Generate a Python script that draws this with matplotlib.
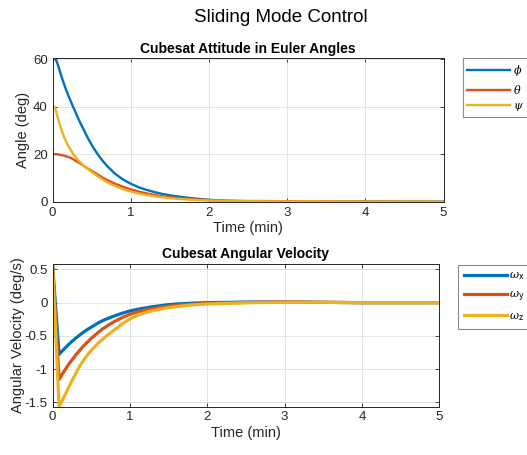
import matplotlib
matplotlib.use("Agg")
import matplotlib.pyplot as plt

plt.rcParams['font.family'] = ['Liberation Sans', 'DejaVu Sans']
plt.rcParams['mathtext.fontset'] = 'dejavuserif'

# Euler angle history (deg) vs time (min)
t_att = [0, 0.02, 0.04, 0.06, 0.08, 0.1, 0.125, 0.15, 0.175, 0.2, 0.25, 0.3,
         0.35, 0.4, 0.45, 0.5, 0.55, 0.6, 0.65, 0.7, 0.8, 0.9, 1.0, 1.1, 1.2,
         1.3, 1.4, 1.5, 1.6, 1.8, 2.0, 2.2, 2.5, 2.8, 3.0, 3.3, 3.6, 4.0, 4.5,
         5.0]
phi = [60.0, 60.5, 60.0, 58.6, 56.6, 54.4, 51.8, 49.4, 47.1, 45.0, 41.1, 37.3,
       33.6, 30.3, 27.0, 24.0, 21.4, 19.0, 16.9, 15.0, 11.8, 9.4, 7.6, 6.1,
       5.0, 4.1, 3.3, 2.7, 2.2, 1.4, 0.8, 0.4, 0.0, -0.2, -0.25, -0.2, -0.1,
       0.0, 0.0, 0.0]
theta = [20.0, 20.05, 20.05, 20.0, 19.9, 19.8, 19.6, 19.4, 19.15, 18.9, 18.2,
         17.2, 16.2, 15.1, 14.0, 13.0, 12.0, 11.0, 10.0, 9.1, 7.6, 6.3, 5.2,
         4.3, 3.5, 2.9, 2.3, 1.9, 1.5, 1.0, 0.65, 0.45, 0.3, 0.25, 0.2, 0.15,
         0.1, 0.05, 0.0, 0.0]
psi = [39.8, 40.3, 38.8, 36.4, 34.0, 31.8, 29.3, 27.2, 25.3, 23.6, 20.9, 18.6,
       16.8, 15.2, 13.8, 12.6, 11.4, 10.2, 9.2, 8.2, 6.6, 5.3, 4.3, 3.5, 2.8,
       2.3, 1.9, 1.5, 1.2, 0.8, 0.5, 0.35, 0.2, 0.15, 0.1, 0.1, 0.05, 0.0,
       0.0, 0.0]

# Body angular rates (deg/s) vs time (min)
t_rate = [0, 0.085, 0.1, 0.125, 0.15, 0.175, 0.2, 0.25, 0.3, 0.35, 0.4, 0.45,
          0.5, 0.55, 0.6, 0.65, 0.7, 0.8, 0.9, 1.0, 1.1, 1.2, 1.3, 1.4, 1.5,
          1.6, 1.8, 2.0, 2.3, 2.6, 3.0, 3.5, 4.0, 5.0]
wx = [0.58, -0.78, -0.76, -0.73, -0.70, -0.67, -0.64, -0.585, -0.535, -0.49,
      -0.445, -0.405, -0.37, -0.335, -0.30, -0.27, -0.245, -0.20, -0.16,
      -0.125, -0.10, -0.08, -0.06, -0.045, -0.03, -0.02, -0.008, 0.0, 0.005,
      0.01, 0.01, 0.005, 0.0, 0.0]
wy = [0.58, -1.16, -1.13, -1.08, -1.035, -0.99, -0.945, -0.865, -0.79, -0.72,
      -0.655, -0.595, -0.54, -0.49, -0.44, -0.395, -0.355, -0.285, -0.225,
      -0.175, -0.14, -0.11, -0.09, -0.07, -0.055, -0.04, -0.025, -0.01, 0.0,
      0.005, 0.01, 0.005, 0.0, 0.0]
wz = [0.59, -1.565, -1.53, -1.48, -1.42, -1.36, -1.30, -1.18, -1.07, -0.96,
      -0.87, -0.79, -0.72, -0.66, -0.60, -0.55, -0.50, -0.41, -0.32, -0.245,
      -0.19, -0.15, -0.12, -0.095, -0.075, -0.06, -0.035, -0.02, -0.01, 0.0,
      0.005, 0.005, 0.0, 0.0]

att_labels = [r'$\phi$', r'$\theta$', r'$\psi$']
rate_labels = [r'$\omega_\mathsf{x}$', r'$\omega_\mathsf{y}$', r'$\omega_\mathsf{z}$']
xticks = [0, 1, 2, 3, 4, 5]

colors = ['#0072BD', '#D95319', '#EDB120']
dark = '#262626'

W, H = 527, 455
fig = plt.figure(figsize=(W / 100, H / 100), dpi=100)

def fx(px):
    return px / W

def fy(py):
    return 1 - py / H

ax1 = fig.add_axes([fx(52.5), fy(201.7), fx(443.5 - 52.5), (201.7 - 58.3) / H])
ax2 = fig.add_axes([fx(52.5), fy(406.5), fx(439.3 - 52.5), (406.5 - 263.5) / H])

for y, c, lab in zip([phi, theta, psi], colors, att_labels):
    ax1.plot(t_att, y, color=c, lw=1.7, label=lab)
for y, c, lab in zip([wx, wy, wz], colors, rate_labels):
    ax2.plot(t_rate, y, color=c, lw=2.3, label=lab)

ax1.set_ylim(0, max(phi))
ax1.set_yticks([0, 20, 40, 60])
ax2.set_ylim(min(wz), max(wz))
ax2.set_yticks([-1.5, -1, -0.5, 0, 0.5])
ax2.set_yticklabels(['-1.5', '-1', '-0.5', '0', '0.5'])

for ax in (ax1, ax2):
    ax.set_xlim(0, 5)
    ax.set_xticks(xticks)
    ax.grid(True, color='#dedede', lw=0.6)
    ax.set_axisbelow(True)
    ax.tick_params(direction='in', top=True, right=True, length=3,
                   colors=dark, labelsize=9.5, width=0.6)
    for s in ax.spines.values():
        s.set_color(dark)
        s.set_linewidth(0.7)
    ax.set_xlabel('Time (min)', fontsize=10.5, color=dark, labelpad=2)

ax1.set_ylabel('Angle (deg)', fontsize=10.5, color=dark, labelpad=2)
ax2.set_ylabel('Angular Velocity (deg/s)', fontsize=10.5, color=dark, labelpad=0)
ax1.set_title('Cubesat Attitude in Euler Angles', fontsize=10, fontweight='bold', pad=4)
ax2.set_title('Cubesat Angular Velocity', fontsize=10, fontweight='bold', pad=4)

fig.text(fx(280.5), fy(18), 'Sliding Mode Control', ha='center', va='center',
         fontsize=13.5, color='black')

leg1 = ax1.legend(loc='upper left', bbox_to_anchor=(fx(462.7), fy(58.3)),
                  bbox_transform=fig.transFigure, fontsize=8, handlelength=3.9,
                  borderaxespad=0, borderpad=0.4, labelspacing=0.45,
                  handletextpad=0.2, fancybox=False, framealpha=1)
leg2 = ax2.legend(loc='upper left', bbox_to_anchor=(fx(458), fy(265)),
                  bbox_transform=fig.transFigure, fontsize=8, handlelength=3.9,
                  borderaxespad=0, borderpad=0.5, labelspacing=0.65,
                  handletextpad=0.2, fancybox=False, framealpha=1)
for leg in (leg1, leg2):
    leg.get_frame().set_edgecolor('#8c8c8c')
    leg.get_frame().set_linewidth(0.8)

fig.savefig('out.png', dpi=100, facecolor='white')
